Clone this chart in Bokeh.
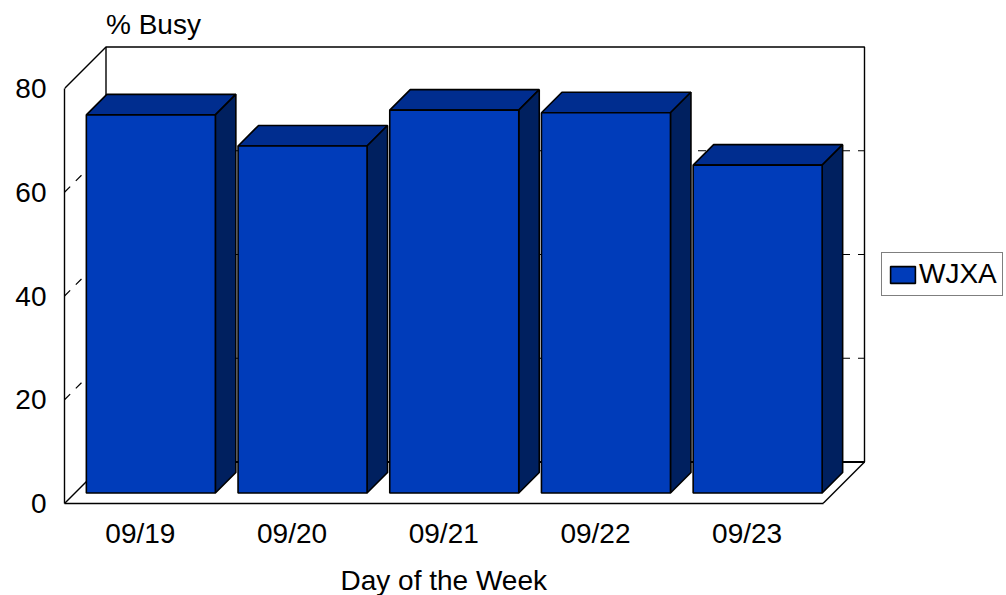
from bokeh.core.properties import value
from bokeh.embed import file_html
from bokeh.layouts import column
from bokeh.resources import INLINE
from bokeh.plotting import figure
from bokeh.models import Range1d, LinearAxis, FixedTicker, Legend, LegendItem, Label

days = ["09/19", "09/20", "09/21", "09/22", "09/23"]
busy = [72.9, 66.9, 73.8, 73.3, 63.2]
y_ticks = [0, 20, 40, 60, 80]
y_label = "% Busy"
x_label = "Day of the Week"
series_name = "WJXA"

FONT = "Liberation Sans"
FS = "28px"
FRONT, TOP, SIDE = "#003CBA", "#002D8F", "#00205F"
W, H = 1006, 560
H2 = 35
BL, BB = 64, 57
PX_X = 151.7      # px per category
PX_Y = 5.1875     # px per % unit
DX = 41.5 / PX_X  # chart depth in x units
DY = 41.5 / PX_Y  # chart depth in y units
YMAX = y_ticks[-1]
N = len(days)

p = figure(width=W, height=H, output_backend="svg", toolbar_location=None,
           x_axis_type=None, y_axis_type=None,
           x_range=Range1d(0, (W - BL) / PX_X), y_range=Range1d(0, (H - BB) / PX_Y),
           min_border_left=BL, min_border_bottom=BB, min_border_right=0, min_border_top=0,
           outline_line_color=None, background_fill_color=None, border_fill_color="white")
p.grid.visible = False

# walls, floor
wall = dict(line_color="black", line_width=1.4)
p.multi_line([[DX, DX, N + DX, N + DX, DX]], [[0 + DY, YMAX + DY, YMAX + DY, DY, DY]], **wall)
p.multi_line([[0, DX], [0, DX], [N, N + DX]], [[YMAX, YMAX + DY], [0, DY], [0, DY]], **wall)
p.line([DX, N + DX], [DY, DY], line_color="black", line_width=2)
# dashed grid
grid_vals = y_ticks[1:-1]
dash = dict(line_color="black", line_width=1.2, line_dash="8 8")
p.multi_line([[DX, N + DX] for _ in grid_vals], [[v + DY, v + DY] for v in grid_vals], **dash)
p.multi_line([[0, DX] for _ in grid_vals], [[v, v + DY] for v in grid_vals], **dash)

# bars
INSET_X = 10.5 / PX_X
INSET_Y = 10.5 / PX_Y
BD_X = 20.5 / PX_X
BD_Y = 20.5 / PX_Y
BAR_W = 129 / PX_X
lefts, rights, bots = [], [], []
for i in range(N):
    cx = i + 0.5 + INSET_X
    lefts.append(cx - BAR_W / 2)
    rights.append(cx + BAR_W / 2)
    bots.append(INSET_Y)
tops = [v + INSET_Y for v in busy]
edge = dict(line_color="black", line_width=1.6)
p.patches([[l, l + BD_X, r + BD_X, r] for l, r in zip(lefts, rights)],
          [[t, t + BD_Y, t + BD_Y, t] for t in tops], fill_color=TOP, **edge)
p.patches([[r, r + BD_X, r + BD_X, r] for r in rights],
          [[b, b + BD_Y, t + BD_Y, t] for b, t in zip(bots, tops)], fill_color=SIDE, **edge)
bars = p.quad(left=lefts, right=rights, bottom=bots, top=tops, fill_color=FRONT, **edge)

# axes
ya = LinearAxis(ticker=FixedTicker(ticks=y_ticks), bounds=(0, YMAX),
                major_tick_line_color=None, minor_tick_line_color=None,
                major_tick_in=0, major_tick_out=0, major_label_standoff=18,
                major_label_text_font=FONT, major_label_text_font_size=FS,
                major_label_text_color="black", axis_line_color="black", axis_line_width=1.4)
p.add_layout(ya, "left")
xticks = [i + 0.5 for i in range(N)]
xa = LinearAxis(ticker=FixedTicker(ticks=xticks), bounds=(0, N),
                major_label_overrides={t: d for t, d in zip(xticks, days)},
                major_tick_line_color=None, minor_tick_line_color=None,
                major_tick_in=0, major_tick_out=0, major_label_standoff=14,
                major_label_text_font=FONT, major_label_text_font_size=FS,
                major_label_text_color="black", axis_line_color="black", axis_line_width=1.4)
p.add_layout(xa, "below")

# axis titles
p.add_layout(Label(x=DX, y=YMAX + DY, y_offset=7, text=y_label, text_font=FONT,
                   text_font_size=FS, text_color="black", text_align="left", text_baseline="bottom"))

# legend
leg = Legend(items=[LegendItem(label=series_name, renderers=[bars])],
             location=(817, 207), orientation="vertical",
             border_line_color="black", border_line_width=1.4, background_fill_color="white",
             background_fill_alpha=1, padding=5, margin=0, label_standoff=1, glyph_width=31, glyph_height=21,
             label_text_font=FONT, label_text_font_size=FS, label_text_color="black")
p.add_layout(leg, "center")

# strip under the chart holding the x axis title, on the same category scale
p2 = figure(width=W, height=H2, output_backend="svg", toolbar_location=None,
            x_axis_type=None, y_axis_type=None,
            x_range=p.x_range, y_range=Range1d(0, H2),
            min_border_left=BL, min_border_bottom=0, min_border_right=0, min_border_top=0,
            outline_line_color=None, background_fill_color=None, border_fill_color="white")
p2.grid.visible = False
p2.text(x=[N / 2], y=[15], text=[x_label], text_font=value(FONT), text_font_size=value(FS),
        text_color="black", text_align="center", text_baseline="middle")

open("out.html", "w").write(file_html(column(p, p2, spacing=0), INLINE))
